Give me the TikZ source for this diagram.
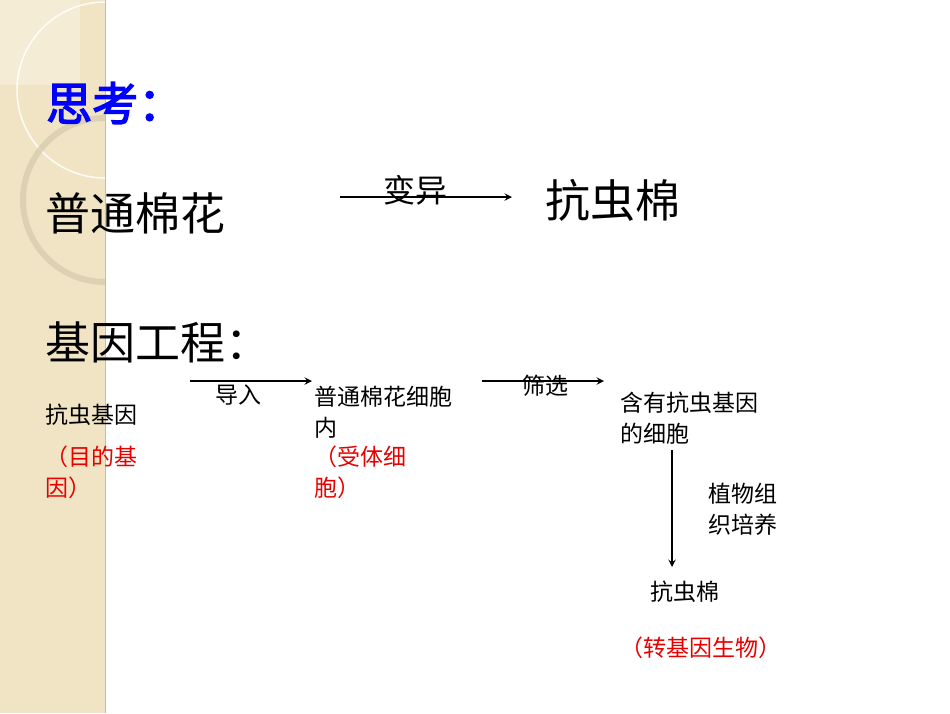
\documentclass[tikz,border=0pt]{standalone}
\usepackage{fontspec}
\setmainfont{Noto Sans CJK SC}
\newfontfamily\titlefont[FakeBold=3]{Noto Sans CJK SC}
\definecolor{beige}{RGB}{240,228,196}
\definecolor{ring}{RGB}{215,205,175}
\definecolor{edge}{RGB}{200,190,160}
\definecolor{myred}{RGB}{230,0,0}
\begin{document}
\begin{tikzpicture}[x=1pt,y=-1pt,
  big/.style={font=\fontsize{45}{48}\selectfont,anchor=west,inner sep=0},
  sm/.style={font=\fontsize{23}{31}\selectfont,anchor=west,inner sep=0,align=left},
  red/.style={sm,text=myred},
  arr/.style={-stealth,line width=2.2pt}]
\useasboundingbox (0,0) rectangle (950,713);
\fill[white] (0,0) rectangle (950,713);
\fill[beige] (0,0) rectangle (105,713);
\begin{scope}
\clip (0,0) rectangle (105,713);
\fill[white,opacity=0.3] (0,0) rectangle (80,85);
\draw[white,line width=1.5pt,opacity=0.9] (105,90) circle (88);
\draw[ring,line width=6pt,opacity=0.8] (105,200) circle (82);
\end{scope}
\draw[edge] (105,0) -- (105,713);
\node[big,font=\fontsize{46}{48}\titlefont,text=blue,inner sep=0] (t) at (46,103) {思考：};
\node[big] (a) at (45,213) {普通棉花};
\node[big] (b) at (545,200) {抗虫棉};
\coordinate (a1) at (340,197); \coordinate (a2) at (512,197);
\draw[arr] (a1) -- (a2);
\node[font=\fontsize{32}{34}\selectfont,inner sep=0] (by) at (415,190) {变异};
\node[big] (g) at (45,342) {基因工程：};
\node[sm] (n1) at (45,415) {抗虫基因};
\node[red] (r1) at (45,472) {（目的基\\因）};
\node[sm] (n2) at (314,412) {普通棉花细胞\\内};
\node[red] (r2) at (314,472) {（受体细\\胞）};
\node[sm] (n3) at (620,418) {含有抗虫基因\\的细胞};
\node[sm] (n4) at (708,509) {植物组\\织培养};
\node[sm] (n5) at (650,592) {抗虫棉};
\node[red] (r5) at (620,648) {（转基因生物）};
\coordinate (b1) at (190,381); \coordinate (b2) at (312,381);
\draw[arr] (b1) -- (b2);
\node[sm] (l1) at (215,395) {导入};
\coordinate (c1) at (482,381); \coordinate (c2) at (604,381);
\draw[arr] (c1) -- (c2);
\node[sm] (l2) at (522,386) {筛选};
\coordinate (d1) at (672,450); \coordinate (d2) at (672,567);
\draw[arr] (d1) -- (d2);
\end{tikzpicture}
\end{document}
